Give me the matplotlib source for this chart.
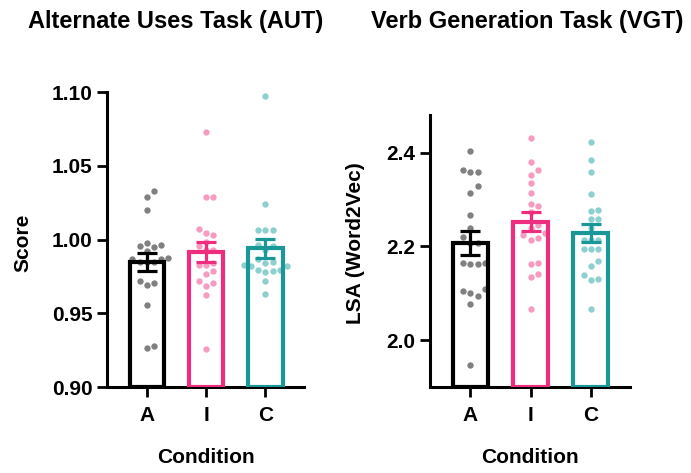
import numpy as np
import matplotlib
matplotlib.use('Agg')
import matplotlib.pyplot as plt

plt.rcParams['font.family'] = ['Liberation Sans', 'DejaVu Sans']
plt.rcParams['font.weight'] = 'bold'

conditions = ['A', 'I', 'C']

# Alternate Uses Task scores per participant
aut_a = [1.0326, 1.0290, 1.0198, 0.9955, 0.9973, 0.9948, 0.9966, 0.9921, 0.9850, 0.9850,
         0.9870, 0.9870, 0.9875, 0.9850, 0.9721, 0.9694, 0.9705, 0.9554, 0.9264, 0.9280]
aut_i = [1.0727, 1.0288, 1.0286, 1.0074, 1.0029, 1.0045, 0.9982, 0.9955, 0.9930, 0.9930,
         0.9838, 0.9824, 0.9827, 0.9789, 0.9768, 0.9719, 0.9708, 0.9683, 0.9624, 0.9260]
aut_c = [1.0974, 1.0243, 1.0065, 1.0065, 1.0067, 0.9966, 0.9955, 0.9930, 0.9865, 0.9838,
         0.9827, 0.9818, 0.9820, 0.9850, 0.9795, 0.9790, 0.9788, 0.9781, 0.9719, 0.9633]

# Verb Generation Task LSA (Word2Vec) per participant
vgt_a = [2.403, 2.363, 2.358, 2.358, 2.328, 2.313, 2.267, 2.240, 2.208, 2.208, 2.220,
         2.162, 2.164, 2.162, 2.165, 2.100, 2.093, 2.104, 2.108, 2.078, 1.946]
vgt_i = [2.430, 2.379, 2.363, 2.352, 2.334, 2.313, 2.290, 2.286, 2.274, 2.245, 2.238,
         2.228, 2.225, 2.213, 2.218, 2.164, 2.162, 2.142, 2.135, 2.067]
vgt_c = [2.422, 2.384, 2.358, 2.311, 2.277, 2.276, 2.259, 2.259, 2.239, 2.213, 2.213,
         2.213, 2.195, 2.195, 2.195, 2.159, 2.169, 2.138, 2.128, 2.130, 2.066]

bar_colors = ['#000000', '#EE2D7F', '#1A9898']
dot_colors = ['#808080', '#F59CC0', '#8ECFCF']


def swarm_offsets(ax, x0, values, gap=7.2):
    # simple beeswarm: push each point sideways until it clears the others
    pts = ax.transData.transform([(x0, v) for v in values])
    order = np.argsort(values)
    placed = []
    xs = np.zeros(len(values))
    for i in order:
        y = pts[i, 1]
        k = 0
        while True:
            for cand in ([0.0] if k == 0 else [k * gap, -k * gap]):
                ok = all((cand - px) ** 2 + (y - py) ** 2 >= gap ** 2 for px, py in placed)
                if ok:
                    break
            else:
                k += 1
                continue
            break
        placed.append((cand, y))
        xs[i] = pts[i, 0] + cand
    inv = ax.transData.inverted()
    return [inv.transform((x, pts[0, 1]))[0] for x in xs]


def draw_panel(ax, groups, ylim, yticks, fmt):
    ax.set_xlim(-0.67, 2.65)
    ax.set_ylim(*ylim)
    for i, vals in enumerate(groups):
        vals = np.array(vals)
        mean = vals.mean()
        sem = vals.std(ddof=1) / np.sqrt(len(vals))
        xs = swarm_offsets(ax, i, vals)
        ax.scatter(xs, vals, s=21, color=dot_colors[i], linewidths=0, zorder=2,
                   clip_on=False)
        ax.bar(i, mean - ylim[0], bottom=ylim[0], width=0.58, facecolor='none',
               edgecolor=bar_colors[i], linewidth=3, zorder=3)
        ax.errorbar(i, mean, yerr=sem, color=bar_colors[i], elinewidth=2.3,
                    capsize=7, capthick=2.3, zorder=4)
    ax.set_xticks(range(len(conditions)))
    ax.set_xticklabels(conditions)
    ax.set_yticks(yticks)
    ax.set_yticklabels([fmt.format(t) for t in yticks])
    for side in ['top', 'right']:
        ax.spines[side].set_visible(False)
    for side in ['left', 'bottom']:
        ax.spines[side].set_linewidth(2.2)
    ax.tick_params(axis='both', width=2, length=7.5, labelsize=15)
    ax.tick_params(axis='x', pad=6)
    ax.tick_params(axis='y', pad=3)
    ax.set_xlabel('Condition', fontsize=15, fontweight='bold', labelpad=17)


fig = plt.figure(figsize=(6.91, 4.73), dpi=100)
ax1 = fig.add_axes([107 / 691, 86 / 473, 197 / 691, 295 / 473])
ax2 = fig.add_axes([430 / 691, 86 / 473, 200 / 691, 272 / 473])

draw_panel(ax1, [aut_a, aut_i, aut_c], (0.90, 1.10), [0.90, 0.95, 1.00, 1.05, 1.10], '{:.2f}')
draw_panel(ax2, [vgt_a, vgt_i, vgt_c], (1.90, 2.48), [2.0, 2.2, 2.4], '{:.1f}')

ax1.set_ylabel('Score', fontsize=15, fontweight='bold')
ax1.yaxis.set_label_coords(-0.381, 0.49)
ax2.set_ylabel('LSA (Word2Vec)', fontsize=15, fontweight='bold')
ax2.yaxis.set_label_coords(-0.325, 0.53)

fig.text(176 / 691, 1 - 21 / 473, 'Alternate Uses Task (AUT)', fontsize=17,
         fontweight='bold', ha='center', va='center')
fig.text(527 / 691, 1 - 21 / 473, 'Verb Generation Task (VGT)', fontsize=17,
         fontweight='bold', ha='center', va='center')

fig.savefig('out.png', dpi=100)
